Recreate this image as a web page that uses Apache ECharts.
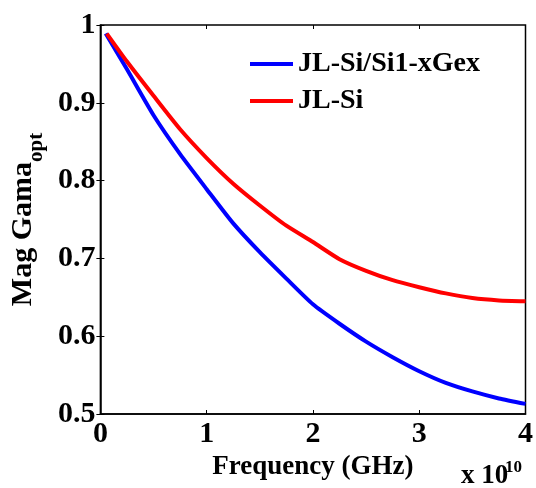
<!DOCTYPE html>
<html>
<head>
<meta charset="utf-8">
<script src="https://cdn.jsdelivr.net/npm/echarts@6/dist/echarts.min.js"></script>
<style>html,body{margin:0;padding:0;background:#fff}#c{width:536px;height:488px}</style>
</head>
<body>
<div id="c"></div>
<script>
// Frequency in units of 1e10 Hz
var freqBlue = [0.05, 0.25, 0.5, 0.75, 1.0, 1.25, 1.5, 1.75, 2.0, 2.25, 2.5, 2.75, 3.0, 3.25, 3.5, 3.75, 4.0];
var sigeValues = [0.989, 0.943, 0.884, 0.834, 0.789, 0.745, 0.708, 0.674, 0.641, 0.616, 0.593, 0.573, 0.555, 0.540, 0.529, 0.520, 0.513];
var freqRed = [0.06, 0.25, 0.5, 0.75, 1.0, 1.25, 1.5, 1.75, 2.0, 2.25, 2.5, 2.75, 3.0, 3.25, 3.5, 3.75, 4.0];
var siValues = [0.989, 0.953, 0.909, 0.866, 0.829, 0.796, 0.768, 0.742, 0.721, 0.699, 0.684, 0.672, 0.663, 0.655, 0.649, 0.646, 0.645];
var seriesNames = ['JL-Si/Si1-xGex', 'JL-Si'];
var xTicks = [0, 1, 2, 3, 4];
var yTicks = [0.5, 0.6, 0.7, 0.8, 0.9, 1];

function pairs(xs, ys) { return xs.map(function (x, i) { return [x, ys[i]]; }); }

var font = 'Liberation Serif';
var chart = echarts.init(document.getElementById('c'));
var tickStyle = { show: true, inside: true, length: 4, lineStyle: { color: '#000', width: 1 } };
chart.setOption({
  animation: false,
  grid: { left: 98, right: 6, top: 25, bottom: 74, show: true, borderColor: '#000', borderWidth: 1.5, backgroundColor: 'transparent' },
  legend: {
    orient: 'vertical', left: 250, top: 50, padding: 0, itemWidth: 43, itemHeight: 4, itemGap: 9, icon: 'rect',
    data: seriesNames,
    textStyle: { fontFamily: font, fontWeight: 'bold', fontSize: 28, color: '#000' }
  },
  xAxis: [{
    type: 'value', min: 0, max: 4, interval: 1,
    axisLine: { show: true, lineStyle: { color: '#000', width: 1.5 } },
    axisTick: tickStyle, splitLine: { show: false },
    axisLabel: { fontFamily: font, fontWeight: 'bold', fontSize: 30, color: '#000', margin: 5,
      formatter: function (v) { return xTicks.indexOf(v) >= 0 ? String(v) : ''; } },
    name: 'Frequency (GHz)', nameLocation: 'middle', nameGap: 30,
    nameTextStyle: { fontFamily: font, fontWeight: 'bold', fontSize: 27, color: '#000' }
  }, {
    type: 'value', min: 0, max: 4, interval: 1, position: 'top',
    axisLine: { show: false }, axisTick: tickStyle, axisLabel: { show: false }, splitLine: { show: false }
  }],
  yAxis: [{
    type: 'value', min: 0.5, max: 1, interval: 0.1,
    axisLine: { show: true, lineStyle: { color: '#000', width: 1.5 } },
    axisTick: tickStyle, splitLine: { show: false },
    axisLabel: { fontFamily: font, fontWeight: 'bold', fontSize: 30, color: '#000', margin: 5,
      formatter: function (v) {
        var r = Math.round(v * 10) / 10;
        return yTicks.indexOf(r) >= 0 ? (r === 1 ? '1' : r.toFixed(1)) : '';
      } },
    name: '{main|Mag Gama}{sub|opt}', nameLocation: 'middle', nameGap: 52, nameRotate: 90,
    nameTextStyle: { fontFamily: font, fontWeight: 'bold', fontSize: 30, color: '#000',
      rich: {
        main: { fontFamily: font, fontWeight: 'bold', fontSize: 30, lineHeight: 32, color: '#000', verticalAlign: 'top' },
        sub: { fontFamily: font, fontWeight: 'bold', fontSize: 21, lineHeight: 22, color: '#000', verticalAlign: 'top', padding: [18, 0, 0, 0] }
      } }
  }, {
    type: 'value', min: 0.5, max: 1, interval: 0.1, position: 'right',
    axisLine: { show: false }, axisTick: tickStyle, axisLabel: { show: false }, splitLine: { show: false }
  }],
  graphic: [{
    type: 'text', left: 461, top: 463,
    style: { text: 'x 10', fontFamily: font, fontWeight: 'bold', fontSize: 27, fill: '#000' }
  }, {
    type: 'text', left: 505, top: 459,
    style: { text: '10', fontFamily: font, fontWeight: 'bold', fontSize: 17, fill: '#000' }
  }],
  series: [{
    name: seriesNames[0], type: 'line', data: pairs(freqBlue, sigeValues), smooth: 0.2,
    showSymbol: false, lineStyle: { color: '#0000ff', width: 4 }, itemStyle: { color: '#0000ff' }
  }, {
    name: seriesNames[1], type: 'line', data: pairs(freqRed, siValues), smooth: 0.2,
    showSymbol: false, lineStyle: { color: '#ff0000', width: 4 }, itemStyle: { color: '#ff0000' }
  }]
});
</script>
</body>
</html>
